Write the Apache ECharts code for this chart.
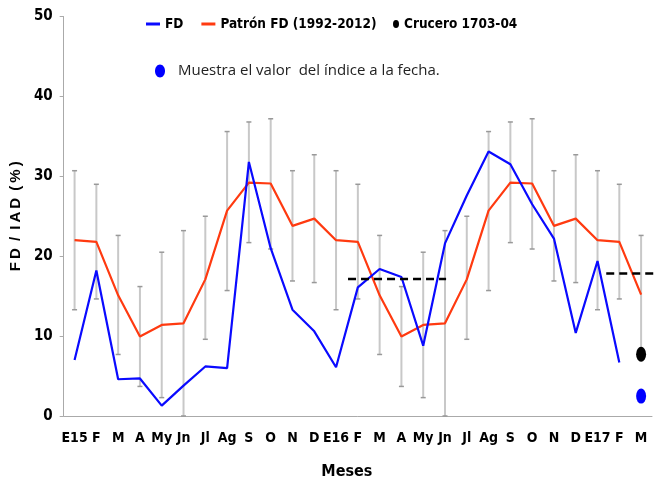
<!DOCTYPE html>
<html>
<head>
<meta charset="UTF-8" />
<title>FD / IAD</title>
<style>
  html, body { margin: 0; padding: 0; background: #fff; }
  #main { width: 660px; height: 485px; }
</style>
</head>
<body>
<div id="main"></div>
<script src="https://cdn.jsdelivr.net/npm/echarts@6/dist/echarts.min.js"></script>
<script>
// meses (E15 .. M 2017)
var meses = ['E15', 'F', 'M', 'A', 'My', 'Jn', 'Jl', 'Ag', 'S', 'O', 'N', 'D',
             'E16', 'F', 'M', 'A', 'My', 'Jn', 'Jl', 'Ag', 'S', 'O', 'N', 'D',
             'E17', 'F', 'M'];

// FD observado
var fd = [7.0, 18.2, 4.6, 4.7, 1.3, 3.8, 6.2, 6.0, 31.8, 21.0, 13.3, 10.6,
          6.1, 16.1, 18.4, 17.4, 8.8, 21.6, 27.6, 33.1, 31.5, 26.5, 22.2, 10.4,
          19.4, 6.7, null];

// patron 1992-2012
var patron = [22.0, 21.8, 15.1, 9.95, 11.4, 11.6, 17.1, 25.7, 29.2, 29.1, 23.8, 24.7,
              22.0, 21.8, 15.1, 9.95, 11.4, 11.6, 17.1, 25.7, 29.2, 29.1, 23.8, 24.7,
              22.0, 21.8, 15.2];

// barras de error del patron
var errSup = [30.7, 29.0, 22.6, 16.2, 20.5, 23.2, 25.0, 35.6, 36.8, 37.2, 30.7, 32.7,
              30.7, 29.0, 22.6, 16.2, 20.5, 23.2, 25.0, 35.6, 36.8, 37.2, 30.7, 32.7,
              30.7, 29.0, 22.6];
var errInf = [13.3, 14.65, 7.7, 3.7, 2.3, 0, 9.6, 15.7, 21.7, 20.9, 16.9, 16.7,
              13.3, 14.65, 7.7, 3.7, 2.3, 0, 9.6, 15.7, 21.7, 20.9, 16.9, 16.7,
              13.3, 14.65, 7.7];

// crucero y valor a la fecha (ultimo mes)
var crucero = [[26, 7.73]];
var valorFecha = [[26, 2.49]];

// niveles de referencia (lineas segmentadas), x en posiciones de mes
var nivel1 = [[13.05, 17.15], [17.55, 17.15]];
var nivel2 = [[24.9, 17.85], [27.15, 17.85]];

var yTicks = [0, 10, 20, 30, 40, 50];

var narrow = "'Liberation Sans Narrow', 'DejaVu Sans Condensed', sans-serif";
var ellipse = 'path://M5,0A5,6.5,0,1,1,5,13A5,6.5,0,1,1,5,0Z';

var errData = [];
for (var i = 0; i < meses.length; i++) {
    errData.push([i, errInf[i], errSup[i]]);
}

var myChart = echarts.init(document.getElementById('main'));

var option = {
    animation: false,
    backgroundColor: '#fff',
    grid: { left: 61, right: 8, top: 16.5, bottom: 67.5 },
    legend: [
        {
            left: 141, top: 12,
            itemWidth: 14, itemHeight: 3, itemGap: 18,
            data: [{ name: 'FD', icon: 'rect' }, { name: 'Patrón FD (1992-2012)', icon: 'rect' }],
            textStyle: { fontFamily: narrow, fontWeight: 'bold', fontSize: 13.5, color: '#000' }
        },
        {
            left: 388, top: 12,
            itemWidth: 6, itemHeight: 11,
            data: [{ name: 'Crucero 1703-04', icon: ellipse }],
            textStyle: { fontFamily: narrow, fontWeight: 'bold', fontSize: 13.5, color: '#000' }
        }
    ],
    graphic: [
        {
            type: 'ellipse',
            shape: { cx: 160, cy: 71, rx: 5, ry: 6.5 },
            style: { fill: '#0000ff' }
        },
        {
            type: 'text',
            x: 178, y: 71,
            style: {
                text: 'Muestra el valor  del índice a la fecha.',
                fontFamily: "'Open Sans', sans-serif", fontSize: 15, fill: '#222',
                verticalAlign: 'middle'
            }
        }
    ],
    xAxis: [
        {
            type: 'category',
            data: meses,
            boundaryGap: true,
            name: 'Meses',
            nameLocation: 'middle',
            nameGap: 48,
            nameTextStyle: { fontFamily: narrow, fontWeight: 'bold', fontSize: 16, color: '#000', padding: [0, 22, 0, 0] },
            axisLine: { lineStyle: { color: '#aaa', width: 1 } },
            axisTick: { interval: 0, length: 6, lineStyle: { color: '#aaa' } },
            axisLabel: { interval: 0, margin: 15, fontFamily: narrow, fontWeight: 'bold', fontSize: 14, color: '#000' },
            splitLine: { show: false }
        },
        {
            type: 'category',
            data: meses,
            position: 'bottom',
            axisLine: { show: false },
            axisTick: { inside: true, alignWithLabel: true, interval: 0, length: 4, lineStyle: { color: '#aaa' } },
            axisLabel: { show: false },
            splitLine: { show: false }
        },
        {
            type: 'value',
            min: 0, max: 27,
            show: false
        }
    ],
    yAxis: {
        type: 'value',
        min: yTicks[0], max: yTicks[yTicks.length - 1], interval: 10,
        name: 'F\u2009D\u2009 /\u2009 I\u2009A\u2009D\u2009 (\u2009%\u2009)',
        nameLocation: 'middle',
        nameGap: 38,
        nameTextStyle: { fontFamily: "'Liberation Sans', Arial, sans-serif", fontWeight: 'bold', fontSize: 15, color: '#000' },
        axisLine: { show: true, lineStyle: { color: '#aaa', width: 1 } },
        axisTick: { show: true, length: 4, lineStyle: { color: '#aaa' } },
        axisLabel: { margin: 11, fontFamily: narrow, fontWeight: 'bold', fontSize: 15, color: '#000' },
        splitLine: { show: false }
    },
    series: [
        {
            name: 'error',
            type: 'custom',
            xAxisIndex: 0,
            z: 1,
            data: errData,
            renderItem: function (params, api) {
                var x = api.value(0);
                var top = api.coord([x, api.value(2)]);
                var bot = api.coord([x, api.value(1)]);
                var w = 2.5;
                return {
                    type: 'group',
                    children: [
                        { type: 'line', shape: { x1: top[0], y1: top[1], x2: bot[0], y2: bot[1] },
                          style: { stroke: '#c8c8c8', lineWidth: 2 } },
                        { type: 'line', shape: { x1: top[0] - w, y1: top[1], x2: top[0] + w, y2: top[1] },
                          style: { stroke: '#999', lineWidth: 1.5 } },
                        { type: 'line', shape: { x1: bot[0] - w, y1: bot[1], x2: bot[0] + w, y2: bot[1] },
                          style: { stroke: '#999', lineWidth: 1.5 } }
                    ]
                };
            }
        },
        {
            name: 'Patrón FD (1992-2012)',
            type: 'line',
            data: patron,
            z: 3,
            symbol: 'none',
            color: '#ff3a10',
            lineStyle: { color: '#ff3a10', width: 2.2 }
        },
        {
            name: 'FD',
            type: 'line',
            data: fd,
            z: 4,
            symbol: 'none',
            color: '#0a0aff',
            lineStyle: { color: '#0a0aff', width: 2.2 }
        },
        {
            name: 'nivel1',
            type: 'line',
            xAxisIndex: 2,
            data: nivel1,
            symbol: 'none',
            clip: false,
            z: 5,
            lineStyle: { color: '#000', width: 2.5, type: [8, 5] }
        },
        {
            name: 'nivel2',
            type: 'line',
            xAxisIndex: 2,
            data: nivel2,
            symbol: 'none',
            clip: false,
            z: 5,
            lineStyle: { color: '#000', width: 2.5, type: [8, 5] }
        },
        {
            name: 'Crucero 1703-04',
            type: 'scatter',
            data: crucero,
            symbol: ellipse,
            symbolSize: [10, 15],
            color: '#000',
            itemStyle: { opacity: 1 },
            z: 6
        },
        {
            name: 'Valor a la fecha',
            type: 'scatter',
            data: valorFecha,
            symbol: ellipse,
            symbolSize: [10, 15],
            color: '#0000ff',
            itemStyle: { opacity: 1 },
            z: 6
        }
    ]
};

myChart.setOption(option);
</script>
</body>
</html>
